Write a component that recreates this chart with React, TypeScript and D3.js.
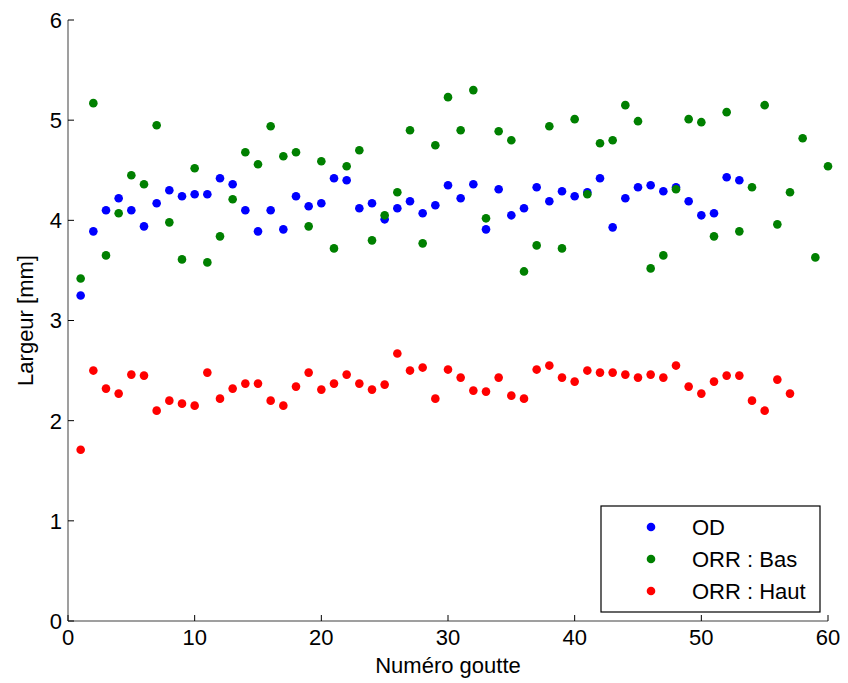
import React from "react";
import * as d3 from "d3";

const odValues = [3.25, 3.89, 4.10, 4.22, 4.10, 3.94, 4.17, 4.30, 4.24, 4.26, 4.26, 4.42, 4.36, 4.10, 3.89, 4.10, 3.91, 4.24, 4.14, 4.17, 4.42, 4.40, 4.12, 4.17, 4.01, 4.12, 4.19, 4.07, 4.15, 4.35, 4.22, 4.36, 3.91, 4.31, 4.05, 4.12, 4.33, 4.19, 4.29, 4.24, 4.28, 4.42, 3.93, 4.22, 4.33, 4.35, 4.29, 4.33, 4.19, 4.05, 4.07, 4.43, 4.40];
const orrBasValues = [3.42, 5.17, 3.65, 4.07, 4.45, 4.36, 4.95, 3.98, 3.61, 4.52, 3.58, 3.84, 4.21, 4.68, 4.56, 4.94, 4.64, 4.68, 3.94, 4.59, 3.72, 4.54, 4.70, 3.80, 4.05, 4.28, 4.90, 3.77, 4.75, 5.23, 4.90, 5.30, 4.02, 4.89, 4.80, 3.49, 3.75, 4.94, 3.72, 5.01, 4.26, 4.77, 4.80, 5.15, 4.99, 3.52, 3.65, 4.31, 5.01, 4.98, 3.84, 5.08, 3.89, 4.33, 5.15, 3.96, 4.28, 4.82, 3.63, 4.54];
const orrHautValues = [1.71, 2.50, 2.32, 2.27, 2.46, 2.45, 2.10, 2.20, 2.17, 2.15, 2.48, 2.22, 2.32, 2.37, 2.37, 2.20, 2.15, 2.34, 2.48, 2.31, 2.37, 2.46, 2.37, 2.31, 2.36, 2.67, 2.50, 2.53, 2.22, 2.51, 2.43, 2.30, 2.29, 2.43, 2.25, 2.22, 2.51, 2.55, 2.43, 2.39, 2.50, 2.48, 2.48, 2.46, 2.43, 2.46, 2.43, 2.55, 2.34, 2.27, 2.39, 2.45, 2.45, 2.20, 2.10, 2.41, 2.27];

const seriesNames = ["OD", "ORR : Bas", "ORR : Haut"];
const seriesColors = ["#0000ff", "#008000", "#ff0000"];
const xTicks = [0, 10, 20, 30, 40, 50, 60];
const yTicks = [0, 1, 2, 3, 4, 5, 6];
const xLabel = "Numéro goutte";
const yLabel = "Largeur [mm]";

export default function App() {
  const W = 848, H = 683;
  const left = 68, right = 828, top = 20, bottom = 621;
  const x = d3.scaleLinear().domain([0, 60]).range([left, right]);
  const y = d3.scaleLinear().domain([0, 6]).range([bottom, top]);
  const series = [odValues, orrBasValues, orrHautValues];
  const font = "'Liberation Sans', Arial, sans-serif";
  const fs = 22;
  const lg = { x: 601, y: 506, w: 219, h: 106 };
  return (
    <svg width={W} height={H} style={{ position: "absolute", left: 0, top: 0, background: "#fff" }}>
      <rect x={0} y={0} width={W} height={H} fill="#fff" />
      {series.map((vals, si) => (
        <g key={si}>
          {vals.map((v, i) => (
            <circle key={i} cx={x(i + 1)} cy={y(v)} r={4.3} fill={seriesColors[si]} />
          ))}
        </g>
      ))}
      <line x1={left} x2={left} y1={top} y2={bottom} stroke="#7f7f7f" strokeWidth={1.5} />
      <line x1={left} x2={right} y1={bottom} y2={bottom} stroke="#7f7f7f" strokeWidth={1.5} />
      {yTicks.map((t) => (
        <g key={"y" + t}>
          <line x1={left} x2={left + 6} y1={y(t)} y2={y(t)} stroke="#000" strokeWidth={1} />
          <text x={left - 6} y={y(t)} dy="0.36em" textAnchor="end" fontFamily={font} fontSize={fs} fill="#000">{t}</text>
        </g>
      ))}
      {xTicks.map((t) => (
        <g key={"x" + t}>
          <line x1={x(t)} x2={x(t)} y1={bottom} y2={bottom - 6} stroke="#000" strokeWidth={1} />
          <text x={x(t)} y={bottom + 24} textAnchor="middle" fontFamily={font} fontSize={fs} fill="#000">{t}</text>
        </g>
      ))}
      <text x={(left + right) / 2} y={673} textAnchor="middle" fontFamily={font} fontSize={fs} fill="#000">{xLabel}</text>
      <text transform={`translate(33, ${(top + bottom) / 2}) rotate(-90)`} textAnchor="middle" fontFamily={font} fontSize={fs} fill="#000">{yLabel}</text>
      <rect x={lg.x} y={lg.y} width={lg.w} height={lg.h} fill="#fff" stroke="#000" strokeWidth={1.2} />
      {seriesNames.map((n, i) => (
        <g key={n}>
          <circle cx={651} cy={527 + i * 32} r={4.3} fill={seriesColors[i]} />
          <text x={692} y={527 + i * 32} dy="0.36em" fontFamily={font} fontSize={fs} fill="#000">{n}</text>
        </g>
      ))}
    </svg>
  );
}
